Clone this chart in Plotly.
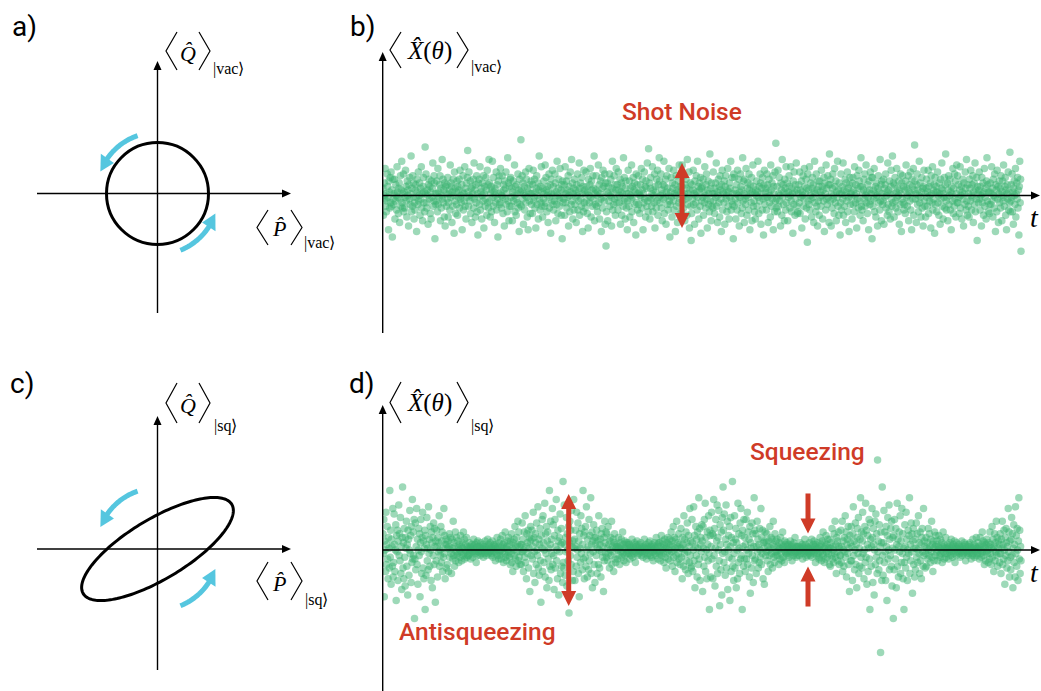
import math
import plotly.graph_objects as go

W, H = 1041, 691

# Homodyne samples of the vacuum state, in tenths of the vacuum standard deviation
shot_noise = [
    4, -11, 0, 7, -2, 15, -6, 1, -9, -3, 12, 5, -1, -19, 8, 2, -7, 10, -4, 13, -6, 3, -23, 9, -2,
    -5, 1, 9, -13, -3, 6, 0, -8, 16, 2, -1, -10, 4, 7, -15, -2, 11, -6, 3, 19, -4, -7, 1, 12, -9,
    2, -7, -1, 14, 5, -3, -12, 8, 0, 3, -17, 6, -2, 10, -5, 1, 22, -9, 4, -6, 11, -1, 7, -13, -4,
    -8, 3, 6, -1, -20, 9, 2, -5, 13, -3, 0, 7, -11, 4, -2, 16, -7, 1, -14, 5, 10, -4, 2, -9, 27,
    1, 12, -4, -7, 3, 0, -16, 6, 9, -2, 5, -10, 2, -13, 8, -1, 4, 18, -6, -3, 11, 7, -24, 1, -5,
    -3, 8, 1, -9, 15, -5, 2, -1, 6, 11, -14, 4, -7, 0, 20, -2, 9, -4, 3, -12, 7, -17, 5, 1, -6,
    6, -2, 10, -12, -4, 1, 3, -8, 17, -1, 7, 5, -15, 2, -6, 9, 0, -21, 13, -3, 4, -10, 2, -5, 8,
    -11, 5, -1, 3, 9, -7, 14, -2, 0, -4, 6, -19, 2, 11, -8, 1, -3, 16, -6, 4, -13, 7, -1, 10, 25,
    2, -6, 13, 0, -3, 8, -10, 4, -1, -15, 5, 1, 9, -7, 18, -2, 3, -12, 6, -4, 11, -9, 1, -22, 7,
    -1, 9, -5, 16, -8, 2, 4, -13, 0, 7, -3, 11, -18, 1, 5, -6, -2, 10, 3, -11, 14, -4, 6, -7, 20,
    7, -3, -12, 1, 5, -9, 3, 19, -1, -6, 10, 2, -15, 4, 0, -4, 13, -8, 6, -2, -23, 8, 1, 11, -5,
    -4, 15, 2, -7, 0, 11, -1, -10, 6, 3, -17, 8, -2, 4, 13, -5, 1, -9, 21, -3, 7, -14, 5, -6, 9,
    10, -1, -6, 4, -14, 2, 8, -3, 0, 17, -9, 5, -2, -11, 6, 1, -4, 12, -7, 3, -20, 9, -5, 2, 31,
    -6, 3, 11, -2, 7, -16, 1, 5, -8, 0, 13, -4, 9, -1, -12, 4, -19, 2, 15, -3, 6, -10, 1, 8, -5,
    1, -10, 6, 14, -3, -1, 9, -7, 2, -18, 4, 11, -5, 0, 7, -13, 3, 22, -2, -8, 5, -4, 16, -6, 2,
    -12, 4, -2, 8, 1, -6, 17, -4, 10, 3, -9, 0, 5, -15, 2, 12, -7, -1, 6, -21, 9, 1, -3, 14, -5,
    5, -8, 1, -3, 12, 7, -14, 2, -5, 19, 0, -10, 4, 9, -2, -6, 15, -1, 3, -11, 6, -24, 8, -4, 2,
    -2, 6, -11, 16, -4, 1, 8, -7, 3, -1, 11, -17, 5, 0, -9, 13, 2, -5, 20, -3, 7, -13, 1, 4, -8,
    9, -5, 3, -1, -15, 6, 0, 12, -8, 2, -3, 18, -11, 4, 7, -2, -6, 10, 1, -20, 5, -9, 14, -4, 3,
    -7, 1, 13, -3, 5, -10, 2, -18, 9, 0, -4, 6, 15, -1, -12, 8, 3, -6, 11, -2, 4, 22, -14, 1, -5,
    3, 11, -6, 0, -9, 2, 17, -4, 6, -13, 1, 8, -2, -20, 10, 4, -7, 14, -1, 5, -3, 12, -16, 7, -28,
    -9, 2, 7, -14, 1, 5, -3, 12, -6, 0, 9, -1, -17, 4, 19, -8, 2, -5, 11, -2, 6, -11, 3, 15, -4,
    6, -1, -8, 13, 3, -4, 0, 9, -16, 2, 7, -11, 5, 1, -6, 21, -3, 10, -2, -13, 4, 8, -7, 1, -19,
    -3, 14, 1, -6, 8, -12, 4, 0, -2, 17, -9, 5, -1, 10, -15, 3, 7, -5, 2, -22, 12, -4, 6, -8, 1,
    11, -5, 2, -10, 0, 6, -1, 15, -7, 3, 9, -19, 1, -4, 13, -2, 5, -12, 8, 4, -6, 18, -3, -9, 26,
    -1, 7, -13, 4, 10, -2, -6, 1, 16, -9, 3, 0, -4, 12, -18, 5, 2, -7, 9, -3, 14, -11, 6, -1, 21,
    8, -4, 0, 12, -7, 3, -14, 1, 6, -2, 19, -10, 5, -1, 9, -16, 2, 11, -5, 4, -8, 0, 15, -3, -23,
    -5, 2, 10, -1, -12, 7, 4, -3, 14, -8, 1, 6, -20, 0, 11, -6, 3, -15, 2, 8, -4, 17, -2, 5, -10,
    2, -9, 5, 17, -3, 0, -7, 11, 1, -14, 6, -2, 9, 4, -11, 20, -5, 1, -1, 13, -18, 3, 7, -6, -25,
    -10, 6, -2, 3, 14, -5, 1, -16, 8, 0, -4, 11, 2, -8, 19, -1, 5, -13, 7, 3, -6, 10, -21, 4, -3,
    5, -1, 9, -11, 2, -4, 16, 0, -7, 6, 12, -2, -18, 3, 8, -5, 1, -9, 23, -3, 4, -14, 7, -6, 1,
    -7, 13, -3, 1, -10, 4, 7, -1, 18, -6, 2, -15, 0, 9, -4, 5, -12, 11, 3, -2, -20, 6, 14, -8, 2,
    1, -4, 8, -16, 5, 11, -2, 0, -9, 3, 15, -6, 2, -13, 7, -1, 4, 19, -8, -3, 10, -5, 1, -24, 12,
    -6, 10, 3, -2, -13, 1, 6, -8, 14, -4, 0, 9, -17, 2, -1, 12, 5, -10, 3, -7, 21, -3, 8, 1, -15,
    9, -2, -5, 15, 0, -11, 4, 7, -1, -8, 12, 3, -19, 6, 1, -4, 10, -14, 2, 17, -6, 5, -3, -9, 1,
    -13, 3, 0, 8, -6, 2, 19, -1, -10, 5, -3, 12, 7, -16, 1, 4, -8, 10, -2, -22, 6, 14, -5, 2, -1,
    4, -8, 12, -1, 6, -15, 2, 9, -4, 0, -12, 17, 3, -6, 7, -2, 11, -19, 5, 1, -9, 13, -3, 29, -7,
    -2, 5, -9, 14, -6, 1, 10, -3, 0, -17, 7, 3, -11, 20, -1, 6, -5, 2, -14, 9, 4, -8, 16, -4, 1,
    7, -14, 2, -1, 11, 5, -7, 0, 16, -3, -9, 4, 1, -21, 8, -5, 13, 2, -11, 6, -2, 18, -6, 3, -10,
    -9, 1, 6, -4, 13, -10, 3, -1, 8, -18, 2, 0, 11, -6, -2, 15, 5, -13, 1, 9, -7, 4, -26, 12, -3,
    3, -5, 16, -8, 0, 7, -2, -12, 4, 10, -1, 6, -15, 2, 19, -4, 1, -9, 12, -6, 3, -17, 8, -3, 5,
    -11, 8, -1, 2, -6, 14, 0, 5, -13, 3, -3, 10, -20, 7, 1, -8, 17, -2, 4, -5, 11, -1, 6, -15, 23,
    6, -3, 9, -17, 1, -7, 4, 12, -2, 0, -10, 15, 5, -4, 8, -14, 2, -1, 19, -6, 3, -11, 7, 1, -22,
    -4, 12, -8, 1, 5, -2, 18, -11, 3, -6, 0, 9, -15, 7, 2, -3, 13, -9, 4, -1, -20, 6, 10, -5, 1,
    2, -1, -13, 7, 10, -5, 3, -9, 16, 0, -4, 6, 1, -18, 11, -2, 4, -7, 14, 8, -3, -11, 5, 21, -6,
    -8, 5, 1, -14, 3, 9, -2, 12, -6, 0, 17, -4, 2, -10, 6, -1, -19, 8, 3, -5, 13, -3, 1, 10, -24,
    10, -6, 3, -2, 15, -9, 1, 5, -12, 7, -1, 0, -17, 4, 11, -4, 2, -8, 20, -3, 6, -14, 8, 1, -5,
    -3, 9, -16, 4, -1, 6, 12, -7, 0, 2, -11, 18, -5, 3, -9, 8, 1, -13, 5, 14, -2, -6, 22, -4, 7,
    1, -12, 6, 10, -3, -7, 2, 15, -1, 4, -9, 0, 8, -16, 3, -5, 12, 1, -20, 7, -2, 11, -4, 5, -8,
    -5, 3, -10, 8, 17, -1, 4, -6, 0, 11, -14, 2, 6, -3, 13, -8, 1, -19, 9, 5, -2, 15, -11, 3, 28,
    8, -2, 1, -15, 6, 12, -5, 3, -9, 0, 19, -4, 7, -1, -12, 2, 10, -7, 4, -17, 5, 14, -3, -6, 1,
    -12, 4, 9, -1, -6, 2, 14, -10, 5, -3, 0, 7, -18, 11, 1, -4, 16, -8, 3, -2, 6, -21, 10, -5, 2,
    5, -9, 2, 13, -4, 0, -11, 7, 1, -16, 9, -2, 4, 18, -6, 3, -13, 1, -1, 10, -7, 6, 23, -3, -8,
    -1, 7, -14, 3, 11, -5, 0, 9, -8, 2, -19, 5, 1, -3, 15, -10, 4, -6, 12, -2, 8, -12, 1, 17, -4,
    11, -4, 6, -1, -10, 3, 16, -7, 0, 5, -13, 2, 9, -2, -17, 7, 1, -5, 13, 4, -8, 20, -3, -11, 6,
    -6, 1, -12, 9, 4, -3, 14, 0, -8, 6, -1, 11, -15, 2, 7, -5, 18, -9, 3, -2, 10, -25, 5, 1, -4,
    3, 13, -2, -8, 5, 0, -17, 10, -4, 1, 7, -11, 2, 15, -6, -1, 4, -13, 8, 21, -3, 6, -9, 2, -5,
    -10, 2, 7, -5, 1, 16, -3, 4, -12, 9, 0, -7, 12, -1, -20, 6, 3, -9, 14, -2, 5, -15, 1, 8, -4,
    4, -7, 11, 0, -14, 2, 8, -3, 17, -1, -6, 5, 10, -11, 3, -19, 1, 6, -2, 13, -8, 2, -4, 24, -9,
    -3, 6, -1, 12, -9, 2, -16, 4, 8, 0, -5, 15, -12, 1, 7, -2, 10, -7, 3, -22, 5, 19, -4, 9, -31,
]

# Homodyne samples of the squeezed state while the phase is swept, same units
squeezed_noise = [
    9, -2, 17, -26, 5, 0, -12, 21, -8, 3, 13, -5, -16, 7, 1, -10, 33, -4, 11, -19, 6, 2, -9, 23, -15,
    -7, 20, 3, -12, 0, 14, -28, 8, -1, 11, -17, 5, 25, -3, 9, -6, 18, -13, 2, -22, 7, 35, -10, 4, -16,
    12, -4, -20, 7, 1, 16, -9, 3, -25, 11, 6, -14, 0, 22, -2, 8, -18, 13, -7, 28, -5, 10, -3, 17, -38,
    -5, 15, -11, 2, 23, -8, 6, -19, 0, 12, -3, 9, -26, 4, 17, -1, -13, 7, 21, -10, 5, -16, 1, 11, -33,
    8, -14, 3, 18, -6, 1, -11, 24, -2, 6, -9, 13, 0, -17, 10, 4, -21, 7, -3, 15, -8, 12, 2, -29, 5,
    -6, 11, 2, -15, 7, -1, 4, 19, -9, 0, -3, 13, -7, 5, 10, -12, 1, -4, 23, -2, 8, -16, 3, 6, -10,
    3, -8, 1, 5, -12, 2, 9, -4, 0, 7, -2, -13, 6, 1, -5, 16, -3, 4, -9, 2, 10, -6, -1, 7, -3,
    -2, 5, 1, -7, 3, 0, -4, 8, -1, 2, -6, 4, 1, -3, 10, -2, 6, -5, 0, 3, -1, 7, -4, 2, -3,
    1, -3, 0, 4, -2, 2, -5, 1, 0, 3, -1, -4, 2, 6, -1, 0, 3, -2, 1, -7, 4, -3, 2, 5, -1,
    -1, 2, 0, -3, 1, 4, -2, 0, 1, -1, 3, -4, 2, 0, -2, 5, -1, 1, -3, 2, 0, 6, -2, 3, -1,
    2, -1, 4, 0, -3, 1, -2, 5, -4, 1, 0, 3, -1, 2, -6, 3, 1, -2, 7, -3, 0, 2, -5, 4, -1,
    -3, 6, 0, -5, 2, 8, -1, 3, -7, 1, 4, -2, 10, -4, 1, -6, 2, 5, -3, 0, 7, -1, -4, 3, -8,
    5, -2, 9, -7, 1, -12, 4, 0, 6, -3, 13, -5, 2, -9, 7, -1, 3, 16, -6, 10, -4, 2, -8, 3, -1,
    -8, 3, 15, -1, 6, -12, 0, 10, -4, 19, -7, 2, -16, 9, 4, -2, 11, -10, 1, 7, -23, 5, 13, -3, 6,
    11, -5, 2, 21, -13, 7, -1, -18, 9, 4, -8, 15, 0, -3, 24, -10, 6, -14, 3, 12, -6, -29, 8, 1, 17,
    -12, 19, 4, -7, 0, 26, -15, 9, -2, 13, -21, 5, 10, -5, 1, -17, 33, -9, 3, 16, -11, 6, -2, 23, -8,
    14, -3, -22, 8, 17, -10, 2, 28, -6, 0, -16, 11, 5, -25, 7, -1, 20, -13, 3, 12, -9, 4, -18, 38, -7,
    -10, 25, 3, -14, 7, -1, 18, -20, 9, 0, -6, 13, -35, 4, 16, -3, 11, -8, 22, 2, -17, 5, -12, 28, 1,
    6, -17, 11, 2, -9, 21, -4, 0, 15, -13, 5, -26, 9, 1, -7, 19, -2, 12, -11, 3, 33, -5, 8, -16, 10,
    -4, 13, -9, 24, 0, -15, 6, 2, -11, 17, -6, 8, -2, 29, -13, 3, 10, -21, 5, -1, 14, -8, 7, -18, 3,
    7, -3, 11, -13, 1, 5, -8, 19, 0, -10, 3, 6, -15, 9, -1, 12, -4, 2, -23, 7, -6, 16, 4, -2, 10,
    -4, 9, 1, -6, 13, -2, 3, -10, 5, 0, 7, -3, 16, -8, 2, -1, 6, -12, 4, 9, -5, 2, -7, 1, 3,
    2, -5, 0, 7, -3, 1, -8, 4, 2, -1, 6, -4, 0, 10, -2, 3, -6, 1, 5, -3, 1, -7, 4, -2, 3,
    -1, 4, 0, -2, 3, -5, 1, 2, -3, 0, 6, -1, -4, 2, 1, -2, 4, 0, -7, 3, -1, 2, 5, -3, 1,
    0, -2, 3, 1, -1, 0, 4, -3, 2, -1, 1, -4, 0, 2, 6, -2, 1, -1, 3, -5, 0, 2, -3, 1, 4,
    -2, 1, 5, -3, 0, 2, -4, 1, 3, -1, -6, 2, 0, 4, -2, 1, -3, 7, 0, -1, 3, -5, 2, 4, -2,
    4, -1, -6, 2, 8, -3, 0, 5, -2, 1, -7, 3, 6, -4, 1, -10, 2, 4, -1, 7, -5, 0, 3, -2, 6,
    -6, 3, 10, -1, 5, -9, 2, 13, -4, 0, 7, -12, 1, 6, -3, 16, -7, 2, 4, -2, 9, -5, 3, -8, 1,
    12, -4, 1, -16, 7, 3, -9, 19, -2, 6, 0, -11, 10, -6, 4, 15, -1, -13, 8, 2, -7, 23, -3, 5, -10,
    -9, 17, 4, -12, 0, 24, -6, 8, -21, 2, 13, -3, 6, -15, 10, 1, -8, 29, -5, 12, -17, 3, 7, -1, 14,
    5, -23, 13, 1, -9, 17, -4, 26, -12, 7, 0, -16, 10, 3, -6, 19, -2, -33, 11, 8, -15, 2, 21, -5, 9,
    -16, 8, 28, -3, 12, -20, 1, 17, -9, 5, 25, -13, 7, 0, 22, -6, -31, 14, 3, -11, 10, -25, 18, -2, 35,
    11, -7, 20, -1, -14, 6, 25, -10, 3, 16, -22, 0, 8, -4, 13, -28, 2, 18, -12, 7, -5, 38, -9, 4, -17,
    -2, 19, -10, 6, 12, -21, 4, 0, -16, 26, -7, 9, 1, -13, 15, -5, 23, -3, 8, -33, 11, 2, -9, 17, -5,
    7, -12, 3, 17, -5, 0, 21, -8, 10, -2, 6, -15, 13, -24, 4, 1, -10, 15, -3, 9, -18, 2, 29, -6, 11,
    -5, 9, -13, 2, 16, -1, 6, -10, 3, -7, 12, 0, -4, 23, -8, 7, -2, 11, -16, 4, 1, -19, 5, 10, -3,
    4, -1, 9, -6, 2, -12, 5, 0, -3, 13, -8, 1, 7, -2, 6, -10, 3, 16, -4, 2, -7, 9, -1, 5, -3,
    -1, 6, -3, 2, 0, -8, 4, 1, -5, 7, -2, 3, -6, 1, 10, -4, 2, 0, -7, 5, -1, 3, -2, 4, -3,
    2, -1, 0, 3, -4, 1, -2, 5, 0, -1, 2, -6, 3, 1, -3, 4, 0, -2, 7, -1, 2, -4, 1, -3, 2,
    -1, 0, 2, -3, 1, 4, 0, -2, 1, -1, 3, -5, 2, 0, -2, 1, 6, -1, 3, -4, 0, 2, -3, 1, -1,
    1, -2, 4, 0, -3, 2, -1, 6, -4, 1, 0, 3, -2, 5, -1, 2, -7, 3, 0, -3, 1, 4, -2, 1, -5,
    -4, 2, 7, -1, 3, -6, 0, 5, -2, 10, -3, 1, -7, 4, 2, -5, 8, -1, 3, -4, 6, 0, -2, 1, -8,
    6, -9, 1, 4, -3, 12, -5, 2, 0, -7, 9, -2, 16, -4, 3, -13, 7, -1, 5, -6, 10, 2, -8, 1, -3,
    -3, 11, -7, 2, 16, -12, 5, 0, -9, 7, -1, 19, -4, 10, -15, 3, 6, -2, 13, -8, 1, -23, 8, 4, -6,
    13, -6, 2, -17, 9, 24, -3, 5, -11, 0, 15, -8, 3, -21, 7, 12, -2, 18, -13, 1, -9, 6, 29, -4, 10,
    -10, 5, 21, -2, 9, -16, 0, 13, -7, 26, -4, 11, -19, 3, 8, -12, 1, 17, -5, -33, 15, 6, -9, 2, 23,
    7, -18, 12, 3, -25, 0, 16, -8, 20, -4, 9, -13, 50, -1, 5, -11, 14, -6, 2, -57, 10, 4, -17, 35, -3,
    -14, 4, 22, -7, 10, -1, -17, 13, 2, -28, 8, 18, -5, 0, 25, -11, 6, -3, 12, -9, 16, -20, 1, 7, -38,
    8, -11, 17, 0, -5, 12, -21, 3, 26, -9, 6, -15, 2, 10, -1, 19, -13, 5, -7, 23, -2, 9, -16, 1, -33,
    -7, 14, 2, -10, 21, -4, 6, -17, 0, 11, -2, 8, 29, -13, 3, -6, 15, -1, 9, -24, 5, 12, -8, 1, -15,
    6, -11, 1, 15, -4, 9, -7, 0, 19, -2, 4, -13, 10, -6, 3, -16, 7, 12, -1, -9, 23, -3, 5, 2, -10,
    -2, 7, -9, 1, 4, -5, 12, 0, -3, 9, 2, -7, 6, -1, 16, -4, 3, -12, 5, 1, -6, 10, -3, 2, 8,
    3, -1, 5, -6, 0, 2, 8, -3, 1, -4, 6, -2, 0, 4, -7, 2, 10, -1, 3, -5, 1, -2, 7, -4, 1,
    -2, 1, 3, 0, -5, 2, -1, 4, 0, -3, 6, -1, 2, -4, 1, 3, -2, 0, 5, -7, 1, 2, -3, 4, -1,
    1, -1, 0, 3, -2, 2, -4, 1, 0, -1, 5, -3, 1, 2, -2, 0, 4, -1, 3, -6, 1, 0, -2, 2, -3,
    -1, 3, -2, 0, 4, -1, 2, -5, 1, 0, -3, 6, -2, 1, 3, -4, 0, 2, -1, 7, -3, 1, -2, 4, 0,
    2, -5, 1, 7, -2, 0, -4, 3, 10, -1, 5, -3, 2, -8, 4, 1, -6, 3, -1, 6, -2, 0, -7, 4, 2,
    -5, 10, -2, 3, -8, 1, 13, -4, 6, 0, -12, 2, 9, -6, 4, -1, 16, -3, 7, -9, 1, 5, -2, 3, -7,
    9, -2, -13, 6, 1, 16, -8, 3, -5, 11, 0, -19, 7, -3, 12, 4, -10, 2, -6, 23, -1, 10, -15, 5, -4,
    -11, 6, 18, -3, 9, -21, 1, 14, -7, 3, -15, 24, -2, 8, -9, 12, 0, -17, 5, 29, -5, 11, -13, 2, -6,
]

# Phase-space picture of the states (units of the vacuum radius)
vacuum_radius = 1.0
squeeze_r = 0.53
squeeze_tilt_deg = 31.0

# Marker arrows, in units of the vacuum standard deviation
shot_arrow = 1.8
anti_arrow = 3.11
sq_arrow_tip = 0.92
sq_arrow_tail = 3.14

GREEN = "rgba(60,179,113,0.5)"
RED = "#cf3b27"
CYAN = "#55c6df"
SERIF = "Liberation Serif"
SANS = "Roboto"

T_PX0, T_PX1 = 383.0, 1021.0
DT_B = (T_PX1 - T_PX0) / (len(shot_noise) - 1)      # pixels per sample
DT_D = (T_PX1 - T_PX0) / (len(squeezed_noise) - 1)
PS = 51.0                                              # pixels per phase-space unit
SIG = 18.0                                             # pixels per vacuum standard deviation


def fx(x):
    return x / W


def fy(y):
    return 1 - y / H


axes = {}


def set_axes(n, box, ox, oy, sx, sy):
    left, top, right, bottom = box
    suf = "" if n == 1 else str(n)
    axes["xaxis" + suf] = dict(domain=[left / W, right / W],
                               range=[(left - ox) / sx, (right - ox) / sx],
                               visible=False, fixedrange=True, anchor="y" + suf)
    axes["yaxis" + suf] = dict(domain=[1 - bottom / H, 1 - top / H],
                               range=[(oy - bottom) / sy, (oy - top) / sy],
                               visible=False, fixedrange=True, anchor="x" + suf)


set_axes(1, (0, 0, 350, 342), 157.5, 193.5, PS, PS)
set_axes(2, (382, 40, 1041, 345), T_PX0, 195.5, DT_B, SIG)
set_axes(3, (0, 346, 350, 691), 157.5, 549.0, PS, PS)
set_axes(4, (382, 352, 1041, 691), T_PX0, 550.0, DT_D, SIG)

shapes = []
annotations = []


def axis_arrow(x0, y0, x1, y1, head_len=9.0, head_w=8.0, width=1.4):
    L = math.hypot(x1 - x0, y1 - y0)
    ux, uy = (x1 - x0) / L, (y1 - y0) / L
    bx, by = x1 - ux * head_len, y1 - uy * head_len
    nx, ny = -uy, ux
    shapes.append(dict(type="line", xref="paper", yref="paper",
                       x0=fx(x0), y0=fy(y0), x1=fx(bx + ux), y1=fy(by + uy),
                       line=dict(color="black", width=width)))
    p = (f"M{fx(x1)},{fy(y1)} L{fx(bx + nx * head_w / 2)},{fy(by + ny * head_w / 2)} "
         f"L{fx(bx - nx * head_w / 2)},{fy(by - ny * head_w / 2)} Z")
    shapes.append(dict(type="path", xref="paper", yref="paper", path=p,
                       fillcolor="black", line=dict(width=0)))


# phase-space axes
axis_arrow(37, 193.5, 291, 193.5)
axis_arrow(157.5, 313, 157.5, 61)
axis_arrow(37, 549, 291, 549)
axis_arrow(157.5, 670, 157.5, 416)
# quadrature-vs-time axes
axis_arrow(382.7, 333, 382.7, 52)
axis_arrow(382, 195.5, 1040, 195.5, width=1.6)
axis_arrow(382.7, 691, 382.7, 405)
axis_arrow(382, 550, 1040, 550, width=1.6)


def curved_arrow(xa, ya, r, th0, th1):
    head = 15.0 / PS
    hw = 8.0 / PS
    dth = math.degrees(head / r)
    thb = th1 - dth
    steps = 30
    pts = []
    for k in range(steps + 1):
        th = math.radians(th0 + (thb + 1.5 - th0) * k / steps)
        pts.append((r * math.cos(th), r * math.sin(th)))
    path = "M" + " L".join(f"{x:.4f},{y:.4f}" for x, y in pts)
    shapes.append(dict(type="path", xref=xa, yref=ya, path=path,
                       line=dict(color=CYAN, width=5)))
    tb = math.radians(thb)
    tt = math.radians(th1)
    cx, cy = r * math.cos(tb), r * math.sin(tb)
    rx, ry = math.cos(tb), math.sin(tb)
    tip = (r * math.cos(tt), r * math.sin(tt))
    p = (f"M{tip[0]:.4f},{tip[1]:.4f} L{cx + rx * hw:.4f},{cy + ry * hw:.4f} "
         f"L{cx - rx * hw:.4f},{cy - ry * hw:.4f} Z")
    shapes.append(dict(type="path", xref=xa, yref=ya, path=p,
                       fillcolor=CYAN, line=dict(width=0)))


for xa, ya in (("x", "y"), ("x3", "y3")):
    curved_arrow(xa, ya, 1.2, 109, 159)
    curved_arrow(xa, ya, 1.2, -68, -19)

# vacuum state: circle
shapes.append(dict(type="circle", xref="x", yref="y",
                   x0=-vacuum_radius, x1=vacuum_radius, y0=-vacuum_radius, y1=vacuum_radius,
                   line=dict(color="black", width=3)))

# squeezed state: tilted ellipse with the same area
a_ax = vacuum_radius * math.exp(squeeze_r)
b_ax = vacuum_radius * math.exp(-squeeze_r)
phi = math.radians(squeeze_tilt_deg)
ell = []
for k in range(181):
    s = 2 * math.pi * k / 180
    u, v = a_ax * math.cos(s), b_ax * math.sin(s)
    ell.append((u * math.cos(phi) - v * math.sin(phi), u * math.sin(phi) + v * math.cos(phi)))
shapes.append(dict(type="path", xref="x3", yref="y3",
                   path="M" + " L".join(f"{x:.4f},{y:.4f}" for x, y in ell) + " Z",
                   line=dict(color="black", width=3)))


def red_arrow(xa, ya, t, y_tail, y_tip, dt):
    head = 15.0 / SIG
    hw = 7.5 / dt
    d = 1 if y_tip > y_tail else -1
    yb = y_tip - d * head
    shapes.append(dict(type="line", xref=xa, yref=ya, x0=t, x1=t, y0=y_tail, y1=yb + d * 0.05,
                       line=dict(color=RED, width=5)))
    shapes.append(dict(type="path", xref=xa, yref=ya,
                       path=f"M{t},{y_tip} L{t - hw},{yb} L{t + hw},{yb} Z",
                       fillcolor=RED, line=dict(width=0)))


t_shot = (682 - T_PX0) / DT_B
t_anti = (568.7 - T_PX0) / DT_D
t_sq = (808 - T_PX0) / DT_D
red_arrow("x2", "y2", t_shot, 0, shot_arrow, DT_B)
red_arrow("x2", "y2", t_shot, 0, -shot_arrow, DT_B)
red_arrow("x4", "y4", t_anti, 0, anti_arrow, DT_D)
red_arrow("x4", "y4", t_anti, 0, -anti_arrow, DT_D)
red_arrow("x4", "y4", t_sq, sq_arrow_tail, sq_arrow_tip, DT_D)
red_arrow("x4", "y4", t_sq, -sq_arrow_tail, -sq_arrow_tip, DT_D)


def text(x, y, s, size, family=SERIF, color="black", xanchor="center", weight="normal"):
    annotations.append(dict(x=fx(x), y=fy(y), xref="paper", yref="paper", text=s,
                            showarrow=False, xanchor=xanchor, yanchor="middle",
                            font=dict(family=family, size=size, color=color, weight=weight)))


def bracket(xl, xr, yt, yb, left=True):
    ym = (yt + yb) / 2
    if left:
        p = f"M{fx(xr)},{fy(yt)} L{fx(xl)},{fy(ym)} L{fx(xr)},{fy(yb)}"
    else:
        p = f"M{fx(xl)},{fy(yt)} L{fx(xr)},{fy(ym)} L{fx(xl)},{fy(yb)}"
    shapes.append(dict(type="path", xref="paper", yref="paper", path=p,
                       line=dict(color="black", width=1.2)))


def expval(xl, xr2, yt, yb, body, body_x, body_y, body_size, sub, sub_x, sub_y, bw=11):
    bracket(xl, xl + bw, yt, yb, True)
    bracket(xr2 - bw, xr2, yt, yb, False)
    text(body_x, body_y, body, body_size)
    text(sub_x, sub_y, sub, 16, xanchor="left")


Qh = "<i>Q\u0302</i>"
Ph = "<i>P\u0302</i>"
Xh = "<i>X\u0302</i>(<i>\u03b8</i>)"

expval(166, 210, 32, 70, Qh, 188, 53, 22, "|vac\u27e9", 211, 69)
expval(257, 302, 210, 245, Ph, 279, 229, 22, "|vac\u27e9", 302, 243)
expval(166, 210, 383, 423, Qh, 188, 405, 22, "|sq\u27e9", 212, 426)
expval(257, 302, 562, 600, Ph, 279, 583, 22, "|sq\u27e9", 303, 600)
expval(390, 468, 32, 68, Xh, 429, 51, 25, "|vac\u27e9", 469, 67)
expval(390, 468, 382, 423, Xh, 429, 403, 25, "|sq\u27e9", 469, 426)

text(1034, 217, "<i>t</i>", 28)
text(1034, 572, "<i>t</i>", 28)

text(24, 26, "a)", 28, family=SANS)
text(362, 26, "b)", 28, family=SANS)
text(22, 383, "c)", 28, family=SANS)
text(362, 383, "d)", 28, family=SANS)

text(682, 111, "Shot Noise", 24.5, family=SANS, color=RED, weight=500)
text(807, 451, "Squeezing", 24.5, family=SANS, color=RED, weight=500)
text(477, 631, "Antisqueezing", 24.5, family=SANS, color=RED, weight=500)

fig = go.Figure()
fig.add_trace(go.Scatter(x=list(range(len(shot_noise))), y=[v / 10 for v in shot_noise],
                         mode="markers", marker=dict(size=7.5, color=GREEN, line=dict(width=0)),
                         xaxis="x2", yaxis="y2", hoverinfo="skip"))
fig.add_trace(go.Scatter(x=list(range(len(squeezed_noise))), y=[v / 10 for v in squeezed_noise],
                         mode="markers", marker=dict(size=7.5, color=GREEN, line=dict(width=0)),
                         xaxis="x4", yaxis="y4", hoverinfo="skip"))

fig.update_layout(width=W, height=H, margin=dict(l=0, r=0, t=0, b=0),
                  paper_bgcolor="white", plot_bgcolor="rgba(0,0,0,0)", showlegend=False,
                  shapes=shapes, annotations=annotations, **axes)
fig.write_html("out.html")
